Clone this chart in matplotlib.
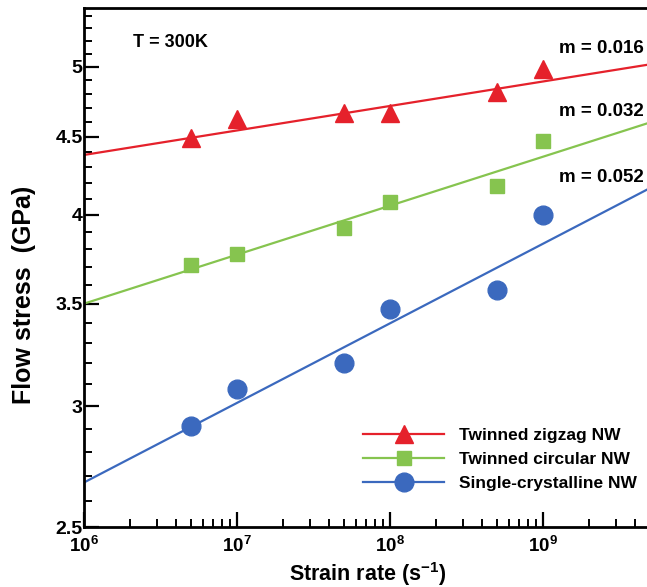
import numpy as np
import matplotlib
matplotlib.use("Agg")
import matplotlib.pyplot as plt
from matplotlib.ticker import FixedLocator, FixedFormatter, LogLocator, NullFormatter

plt.rcParams['font.family'] = ['Liberation Sans', 'DejaVu Sans']
plt.rcParams['font.weight'] = 'bold'
plt.rcParams['mathtext.fontset'] = 'custom'
plt.rcParams['mathtext.rm'] = 'Liberation Sans:bold'
plt.rcParams['mathtext.bf'] = 'Liberation Sans:bold'
plt.rcParams['mathtext.it'] = 'Liberation Sans:bold'

# Data
strain_rate = [5e6, 1e7, 5e7, 1e8, 5e8, 1e9]
zigzag = [4.49, 4.62, 4.66, 4.66, 4.81, 4.98]
circular = [3.71, 3.77, 3.92, 4.08, 4.18, 4.47]
single = [2.91, 3.08, 3.20, 3.47, 3.57, 4.00]

# fit lines: stress = A * (rate/1e6)^m
fit_A = [4.378, 3.50, 2.674]
fit_m = [0.016, 0.032, 0.052]
labels = ["Twinned zigzag NW", "Twinned circular NW", "Single-crystalline NW"]
m_labels = ["m = 0.016", "m = 0.032", "m = 0.052"]
colors = ["#e5212b", "#86c44f", "#3b69be"]
markers = ["^", "s", "o"]
msizes = [13, 10, 13.5]

y_ticks = [2.5, 3, 3.5, 4, 4.5, 5]
y_ticklabels = ["2.5", "3", "3.5", "4", "4.5", "5"]

fig = plt.figure(figsize=(6.47, 5.87), dpi=100)
ax = fig.add_axes([0.130, 0.102, 0.870, 0.884])

xmin, xmax = 1e6, 4.8e9
xl = np.array([xmin, xmax])
for ys, A, m, lab, c, mk, ms in zip([zigzag, circular, single], fit_A, fit_m, labels, colors, markers, msizes):
    ax.plot(xl, A * (xl / 1e6) ** m, color=c, lw=1.6, zorder=2)
    ax.plot(strain_rate, ys, linestyle='none', marker=mk, color=c, ms=ms, zorder=3)
    ax.plot([], [], color=c, lw=1.6, marker=mk, ms=ms, label=lab)

ax.set_xscale('log')
ax.set_yscale('log')
ax.set_xlim(xmin, xmax)
ax.set_ylim(2.5, 5.46)

ax.yaxis.set_major_locator(FixedLocator(y_ticks))
ax.yaxis.set_major_formatter(FixedFormatter(y_ticklabels))
ax.yaxis.set_minor_locator(FixedLocator(np.arange(2.6, 5.45, 0.1)))
ax.yaxis.set_minor_formatter(NullFormatter())

ax.xaxis.set_major_locator(LogLocator(base=10, numticks=10))
ax.xaxis.set_minor_locator(LogLocator(base=10, subs=np.arange(2, 10), numticks=20))
ax.xaxis.set_minor_formatter(NullFormatter())

ax.tick_params(which='major', direction='in', length=11, width=1.6)
ax.tick_params(which='minor', direction='in', length=6, width=1.4)
ax.tick_params(axis='y', pad=1, labelsize=14)
ax.tick_params(axis='x', pad=6, labelsize=13.5)
for s in ['left', 'bottom', 'top']:
    ax.spines[s].set_linewidth(2)
ax.spines['right'].set_visible(False)
ax.tick_params(right=False, top=False, which='both')

for lab in ax.get_xticklabels() + ax.get_yticklabels():
    lab.set_fontweight('bold')

ax.set_xlabel("Strain rate (s$^{-1}$)", fontsize=15.5, fontweight='bold')
ax.xaxis.set_label_coords(0.503, -0.064)
ax.set_ylabel("Flow stress  (GPa)", fontsize=18, fontweight='bold')
ax.yaxis.set_label_coords(-0.086, 0.447)

ax.text(0.087, 0.934, "T = 300K", transform=ax.transAxes, fontsize=13, fontweight='bold', va='center')
m_y = [0.923, 0.800, 0.674]
for t, yy in zip(m_labels, m_y):
    ax.text(0.995, yy, t, transform=ax.transAxes, fontsize=13.5, fontweight='bold', ha='right', va='center')

leg = ax.legend(loc='lower right', bbox_to_anchor=(1.01, 0.04), frameon=False, fontsize=12.5,
                handlelength=4.7, handletextpad=0.85, labelspacing=0.5, numpoints=1)
for t in leg.get_texts():
    t.set_fontweight('bold')

fig.savefig("out.png", dpi=100)
